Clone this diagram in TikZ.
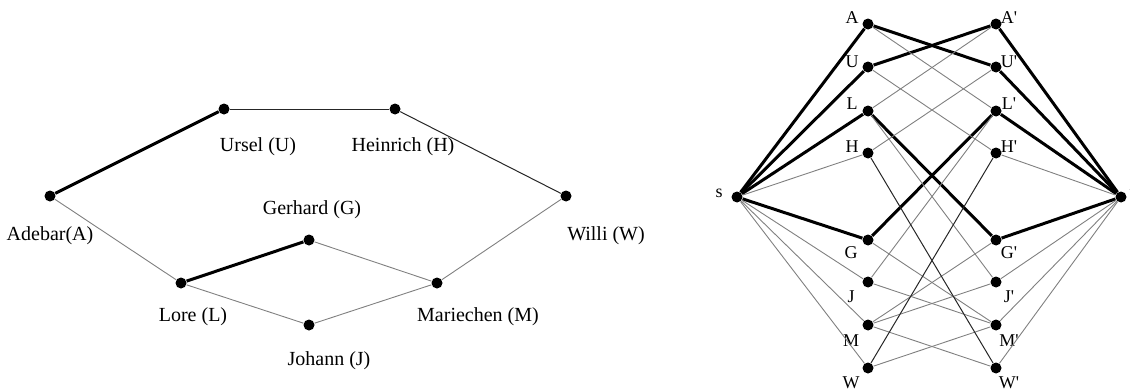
\documentclass[tikz,border=0pt]{standalone}
\usepackage{fontspec}
\setmainfont{Liberation Serif}
\usepackage{tikz}

\tikzset{
  dot/.style={circle,fill=black,inner sep=0pt,minimum size=5.5pt},
  person/.style={inner sep=0pt,font=\fontsize{10}{12}\selectfont},
  letter/.style={inner sep=0pt,font=\fontsize{9}{11}\selectfont},
  matched/.style={line width=1.5pt},
  plain/.style={draw=black!50,line width=0.45pt},
  dark/.style={draw=black!85,line width=0.5pt}
}

\begin{document}
\begin{tikzpicture}[x=0.5pt,y=-0.5pt]
  \useasboundingbox (0,0) rectangle (1130,391);

  % Friendship graph
  \node[dot] (A) at (50,196) {};
  \node[dot] (U) at (224,109) {};
  \node[dot] (H) at (395,109) {};
  \node[dot] (W) at (566,196) {};
  \node[dot] (G) at (309,240) {};
  \node[dot] (L) at (181,283) {};
  \node[dot] (J) at (309,325) {};
  \node[dot] (M) at (437,283) {};

  \node[person] (nA) at (50,236) {Adebar(A)};
  \node[person] (nU) at (258,147) {Ursel (U)};
  \node[person] (nH) at (403,147) {Heinrich (H)};
  \node[person] (nW) at (606,236) {Willi (W)};
  \node[person] (nG) at (312,210) {Gerhard (G)};
  \node[person] (nL) at (193,317) {Lore (L)};
  \node[person] (nJ) at (329,361) {Johann (J)};
  \node[person] (nM) at (478,317) {Mariechen (M)};

  \draw[matched] (A) -- (U);
  \draw[matched] (L) -- (G);
  \draw[dark] (U) -- (H);
  \draw[dark] (H) -- (W);
  \draw[plain] (W) -- (M);
  \draw[plain] (A) -- (L);
  \draw[plain] (G) -- (M);
  \draw[plain] (L) -- (J);
  \draw[plain] (J) -- (M);

  % Flow network: source, two copies of the vertices, sink
  \node[dot] (s) at (737,197) {};
  \node[dot] (t) at (1121,197) {};
  \node[letter] (ns) at (719,193) {s};
  \node[letter] (nt) at (1132,193) {t};

  \foreach \v/\y in {A/24,U/67,L/111,H/153,G/240,J/282,M/325,W/368}{
    \node[dot] (\v1) at (868,\y) {};
    \node[dot] (\v2) at (996,\y) {};
  }
  \foreach \v/\y in {A/18,U/62,L/104,H/147}{
    \node[letter] (n\v1) at (852,\y) {\v};
    \node[letter] (n\v2) at (1009,\y) {\v\textquotesingle};
  }
  \foreach \v/\y in {G/253,J/297,M/341,W/383}{
    \node[letter] (n\v1) at (851,\y) {\v};
    \node[letter] (n\v2) at (1009,\y) {\v\textquotesingle};
  }

  % source and sink edges
  \foreach \v in {A,U,L,G}{
    \draw[matched] (s) -- (\v1);
    \draw[matched] (t) -- (\v2);
  }
  \foreach \v in {H,J,M,W}{
    \draw[plain] (s) -- (\v1);
    \draw[plain] (t) -- (\v2);
  }

  % one edge pair per friendship
  \draw[matched] (A1) -- (U2);
  \draw[matched] (U1) -- (A2);
  \draw[matched] (L1) -- (G2);
  \draw[matched] (G1) -- (L2);
  \foreach \p/\q in {U/H,A/L,W/M,G/M,L/J,J/M}{
    \draw[plain] (\p1) -- (\q2);
    \draw[plain] (\q1) -- (\p2);
  }
  \draw[dark] (H1) -- (W2);
  \draw[dark] (W1) -- (H2);
\end{tikzpicture}
\end{document}
